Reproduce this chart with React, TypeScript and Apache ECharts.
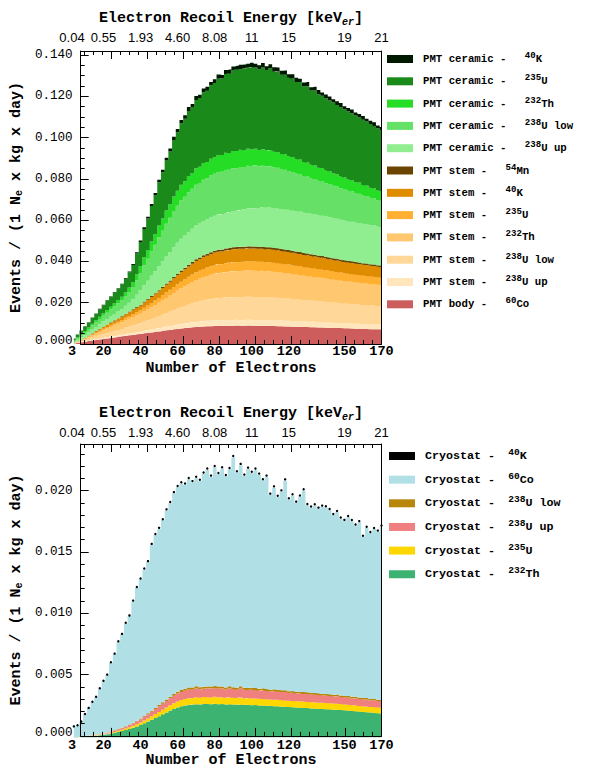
import React, { useEffect, useRef } from 'react';
import * as echarts from 'echarts';

// ---------- axes / ticks ----------
const electronBins = [4,6,8,10,12,14,16,18,20,22,24,26,28,30,32,34,36,38,40,42,44,46,48,50,52,54,56,58,60,62,64,66,68,70,72,74,76,78,80,82,84,86,88,90,92,94,96,98,100,102,104,106,108,110,112,114,116,118,120,122,124,126,128,130,132,134,136,138,140,142,144,146,148,150,152,154,156,158,160,162,164,166,168,170];
const xMajorTicks = [3, 20, 40, 60, 80, 100, 120, 150, 170];
const energyLabels = ['0.04', '0.55', '1.93', '4.60', '8.08', '11', '15', '19', '21'];
const xMinorTicks = [5, 10, 15, 25, 30, 35, 45, 50, 55, 65, 70, 75, 85, 90, 95, 105, 110, 115, 125, 130, 135, 140, 145, 155, 160, 165];
const yTicksPmt = [0, 0.02, 0.04, 0.06, 0.08, 0.1, 0.12, 0.14];
const yMinorPmt = [0.005,0.01,0.015,0.025,0.03,0.035,0.045,0.05,0.055,0.065,0.07,0.075,0.085,0.09,0.095,0.105,0.11,0.115,0.125,0.13,0.135];
const yTicksCryo = [0, 0.005, 0.01, 0.015, 0.02];
const yMinorCryo = [0.001,0.002,0.003,0.004,0.006,0.007,0.008,0.009,0.011,0.012,0.013,0.014,0.016,0.017,0.018,0.019,0.021,0.022,0.023];

// ---------- PMT histogram (stack bottom -> top) ----------
const pmtBodyCo60 = [0.0003,0.0006,0.0008,0.0011,0.0014,0.0017,0.0019,0.0022,0.0025,0.0027,0.003,0.0032,0.0035,0.0037,0.004,0.0042,0.0044,0.0047,0.0049,0.0052,0.0054,0.0056,0.0059,0.0061,0.0064,0.0066,0.0068,0.0071,0.0073,0.0075,0.0077,0.0079,0.0081,0.0082,0.0083,0.0085,0.0086,0.0086,0.0087,0.0088,0.0087,0.0088,0.0088,0.0088,0.0089,0.0088,0.0088,0.0089,0.0088,0.0088,0.0087,0.0088,0.0087,0.0087,0.0087,0.0086,0.0086,0.0085,0.0085,0.0084,0.0084,0.0083,0.0082,0.0082,0.0081,0.0081,0.008,0.008,0.0079,0.0078,0.0078,0.0077,0.0077,0.0076,0.0076,0.0075,0.0074,0.0074,0.0073,0.0073,0.0072,0.0072,0.0071,0.0071];
const pmtStemU238up = [0.00002,0.00005,0.0001,0.00014,0.0002,0.00026,0.00033,0.00039,0.00045,0.00051,0.00056,0.00062,0.00068,0.00074,0.0008,0.00086,0.00093,0.00099,0.00106,0.00115,0.00123,0.00132,0.0014,0.00149,0.0016,0.0017,0.0018,0.0019,0.002,0.0021,0.00219,0.00228,0.00237,0.00246,0.00252,0.00258,0.00263,0.00269,0.00274,0.00276,0.00278,0.00281,0.00283,0.00285,0.00286,0.00287,0.00287,0.00288,0.00289,0.00288,0.00288,0.00287,0.00287,0.00286,0.00284,0.00283,0.00281,0.00279,0.00278,0.00275,0.00273,0.00272,0.00269,0.00267,0.00266,0.00263,0.00262,0.0026,0.00258,0.00256,0.00254,0.00251,0.00249,0.00247,0.00245,0.00244,0.00242,0.00241,0.00239,0.00238,0.00236,0.00235,0.00233,0.00232];
const pmtStemU238low = [0.00006,0.0002,0.00038,0.00055,0.00078,0.00102,0.00128,0.00151,0.00174,0.00197,0.00218,0.00241,0.00261,0.00284,0.0031,0.00334,0.0036,0.00383,0.00409,0.00444,0.00476,0.0051,0.00542,0.00577,0.00618,0.00655,0.00696,0.00734,0.00774,0.00812,0.00847,0.00882,0.00916,0.00951,0.00974,0.00998,0.01018,0.01038,0.01059,0.01067,0.01076,0.01085,0.01093,0.01102,0.01105,0.01108,0.01111,0.01114,0.01117,0.01114,0.01114,0.01111,0.01108,0.01105,0.01099,0.01093,0.01085,0.01079,0.01073,0.01064,0.01056,0.0105,0.01041,0.01032,0.01027,0.01018,0.01012,0.01003,0.00998,0.00989,0.0098,0.00972,0.00963,0.00954,0.00948,0.00943,0.00937,0.00931,0.00925,0.00919,0.00914,0.00908,0.00902,0.00896];
const pmtStemTh232 = [0.00007,0.00023,0.00043,0.00063,0.00089,0.00116,0.00145,0.00172,0.00198,0.00224,0.00248,0.00274,0.00297,0.00323,0.00353,0.0038,0.00409,0.00436,0.00465,0.00505,0.00541,0.00581,0.00617,0.00657,0.00703,0.00746,0.00792,0.00835,0.00881,0.00924,0.00964,0.01003,0.01043,0.01082,0.01109,0.01135,0.01158,0.01181,0.01205,0.01214,0.01224,0.01234,0.01244,0.01254,0.01257,0.01261,0.01264,0.01267,0.01271,0.01267,0.01267,0.01264,0.01261,0.01257,0.01251,0.01244,0.01234,0.01228,0.01221,0.01211,0.01201,0.01195,0.01185,0.01175,0.01168,0.01158,0.01152,0.01142,0.01135,0.01125,0.01115,0.01106,0.01096,0.01086,0.01079,0.01073,0.01066,0.01059,0.01053,0.01046,0.0104,0.01033,0.01026,0.0102];
const pmtStemU235 = [0.00002,0.00008,0.00015,0.00022,0.00031,0.0004,0.00051,0.0006,0.00069,0.00078,0.00086,0.00095,0.00104,0.00113,0.00123,0.00132,0.00143,0.00152,0.00162,0.00176,0.00189,0.00202,0.00215,0.00229,0.00245,0.0026,0.00276,0.00291,0.00307,0.00322,0.00336,0.0035,0.00363,0.00377,0.00386,0.00396,0.00404,0.00412,0.0042,0.00423,0.00427,0.0043,0.00434,0.00437,0.00438,0.00439,0.0044,0.00442,0.00443,0.00442,0.00442,0.0044,0.00439,0.00438,0.00436,0.00434,0.0043,0.00428,0.00426,0.00422,0.00419,0.00416,0.00413,0.00409,0.00407,0.00404,0.00401,0.00398,0.00396,0.00392,0.00389,0.00385,0.00382,0.00378,0.00376,0.00374,0.00371,0.00369,0.00367,0.00365,0.00362,0.0036,0.00358,0.00355];
const pmtStemK40 = [0.00003,0.00012,0.00021,0.00031,0.00045,0.00058,0.00073,0.00086,0.00099,0.00112,0.00124,0.00137,0.00149,0.00162,0.00177,0.0019,0.00205,0.00218,0.00233,0.00255,0.00268,0.00294,0.00306,0.00331,0.00348,0.00377,0.00392,0.00421,0.00437,0.00466,0.00479,0.00506,0.00518,0.00545,0.0055,0.00572,0.00576,0.00595,0.00599,0.00611,0.00609,0.00621,0.00619,0.00631,0.00625,0.00634,0.00629,0.00638,0.00631,0.00638,0.0063,0.00636,0.00627,0.00633,0.00621,0.00626,0.00613,0.00618,0.00607,0.0061,0.00597,0.00601,0.00588,0.00591,0.0058,0.00583,0.00572,0.00575,0.00564,0.00566,0.00554,0.00557,0.00544,0.00547,0.00536,0.00539,0.00529,0.00533,0.00522,0.00526,0.00516,0.00519,0.00509,0.00513];
const pmtStemMn54 = [0.00001,0.00002,0.00003,0.00005,0.00007,0.00009,0.00011,0.00013,0.00015,0.00017,0.00019,0.00021,0.00023,0.00025,0.00027,0.00029,0.00031,0.00033,0.00035,0.00038,0.00041,0.00044,0.00047,0.0005,0.00053,0.00057,0.0006,0.00063,0.00067,0.0007,0.00073,0.00076,0.00079,0.00082,0.00084,0.00086,0.00088,0.0009,0.00091,0.00092,0.00093,0.00094,0.00094,0.00095,0.00095,0.00096,0.00096,0.00096,0.00096,0.00096,0.00096,0.00096,0.00096,0.00095,0.00095,0.00094,0.00094,0.00093,0.00093,0.00092,0.00091,0.00091,0.0009,0.00089,0.00089,0.00088,0.00087,0.00087,0.00086,0.00085,0.00085,0.00084,0.00083,0.00082,0.00082,0.00081,0.00081,0.0008,0.0008,0.00079,0.00079,0.00078,0.00078,0.00077];
const pmtCeramicU238up = [0.00047,0.00072,0.00099,0.00124,0.00146,0.00169,0.00191,0.00214,0.00236,0.00259,0.00281,0.00304,0.00326,0.00349,0.00387,0.00432,0.00491,0.0059,0.00698,0.00795,0.00888,0.00977,0.01072,0.01162,0.0124,0.01312,0.01384,0.01447,0.01505,0.01541,0.0157,0.01594,0.01616,0.01634,0.01647,0.01658,0.01668,0.01681,0.01697,0.01705,0.01715,0.01723,0.01729,0.01734,0.01759,0.01783,0.01807,0.01826,0.01846,0.01863,0.01879,0.01894,0.0191,0.01925,0.01934,0.0194,0.01946,0.01949,0.01955,0.01956,0.01959,0.01959,0.01961,0.01961,0.01958,0.01957,0.01953,0.01952,0.01948,0.01945,0.01943,0.01938,0.01935,0.01932,0.01926,0.01922,0.01915,0.01911,0.01904,0.01896,0.01888,0.0188,0.01871,0.01862];
const pmtCeramicU238low = [0.00057,0.00086,0.00119,0.00149,0.00176,0.00203,0.0023,0.00257,0.00284,0.00311,0.00338,0.00365,0.00392,0.00419,0.00464,0.00518,0.00589,0.00707,0.00837,0.0096,0.01058,0.0118,0.01279,0.01403,0.01479,0.01586,0.01652,0.01748,0.01795,0.0186,0.01873,0.01925,0.01931,0.01973,0.01965,0.02001,0.0199,0.02029,0.02026,0.02059,0.02046,0.0208,0.02063,0.02092,0.02071,0.02087,0.02063,0.02074,0.02046,0.02056,0.0202,0.02029,0.01993,0.02003,0.0196,0.01961,0.01916,0.01913,0.0187,0.01866,0.0182,0.01816,0.01771,0.01768,0.01719,0.01715,0.01667,0.01664,0.01616,0.01613,0.01567,0.01563,0.01517,0.01515,0.01468,0.01467,0.0142,0.01418,0.01373,0.0137,0.01324,0.01321,0.01276,0.01274];
const pmtCeramicTh232 = [0.00023,0.00035,0.00048,0.00061,0.00072,0.00083,0.00094,0.00105,0.00116,0.00127,0.00138,0.00149,0.0016,0.00171,0.00189,0.00211,0.0024,0.00288,0.00341,0.00395,0.00426,0.00483,0.00516,0.00574,0.00595,0.00646,0.00662,0.0071,0.0072,0.00755,0.00749,0.00778,0.00769,0.00796,0.00784,0.00806,0.00792,0.00813,0.00803,0.00824,0.0081,0.0083,0.00815,0.00832,0.00816,0.00829,0.00808,0.0082,0.00801,0.00812,0.00788,0.00796,0.00775,0.00786,0.00759,0.00765,0.0074,0.00747,0.00719,0.00725,0.00698,0.00704,0.00676,0.00683,0.00654,0.00661,0.00631,0.00638,0.0061,0.00617,0.00589,0.00595,0.00568,0.00575,0.00547,0.00554,0.00527,0.00534,0.00506,0.00513,0.00486,0.00494,0.00466,0.00474];
const pmtCeramicU235 = [0.0008,0.00126,0.00162,0.00215,0.0024,0.00293,0.00316,0.00368,0.00392,0.00446,0.00468,0.00522,0.00543,0.00598,0.00646,0.0074,0.0082,0.01008,0.01169,0.01371,0.01522,0.01724,0.01885,0.02096,0.02231,0.0242,0.0255,0.02733,0.0284,0.02975,0.0303,0.03152,0.03194,0.03306,0.03328,0.0343,0.03446,0.0356,0.03592,0.03691,0.0371,0.03818,0.03829,0.03926,0.03935,0.03908,0.03969,0.03921,0.0398,0.03936,0.0391,0.03962,0.03904,0.03951,0.03879,0.03913,0.03842,0.0385,0.03798,0.03812,0.0373,0.03749,0.03665,0.03693,0.03596,0.03618,0.03564,0.03499,0.03502,0.03428,0.03439,0.03357,0.03376,0.03294,0.03301,0.03226,0.03238,0.03159,0.03163,0.03088,0.0309,0.03015,0.03017,0.02944];
const pmtCeramicK40 = [0.000045,0.000075,0.000105,0.00012,0.00015,0.000165,0.000195,0.00021,0.00024,0.000255,0.000285,0.0003,0.00033,0.000345,0.00039,0.000435,0.000495,0.000585,0.000705,0.000795,0.0009,0.00099,0.001095,0.001185,0.001275,0.00135,0.00144,0.001515,0.001575,0.00162,0.001665,0.001895,0.001525,0.001955,0.00167,0.0018,0.002015,0.00163,0.00186,0.002075,0.001705,0.00192,0.002135,0.00175,0.001965,0.002165,0.00178,0.00198,0.00218,0.00178,0.00198,0.00208,0.00185,0.001965,0.00215,0.00175,0.001935,0.00212,0.00172,0.00189,0.00209,0.001675,0.00186,0.002045,0.00164,0.001815,0.00198,0.001585,0.00177,0.001955,0.00154,0.001725,0.00191,0.0015,0.001665,0.00185,0.00146,0.00162,0.001805,0.00142,0.001575,0.001745,0.00138,0.0015];

// ---------- Cryostat histogram (stack bottom -> top) ----------
const cryoTh232 = [0.00002,0.00003,0.00005,0.00007,0.00009,0.00012,0.00015,0.00018,0.00022,0.00027,0.00032,0.00038,0.00045,0.00052,0.0006,0.00069,0.00079,0.0009,0.00102,0.00115,0.00129,0.00143,0.00158,0.00173,0.00188,0.00203,0.00218,0.00232,0.00244,0.00253,0.0026,0.00264,0.00267,0.0027,0.00268,0.00272,0.00271,0.0027,0.00273,0.00269,0.00271,0.00268,0.0027,0.00267,0.00266,0.00268,0.00264,0.00265,0.00262,0.00263,0.0026,0.0026,0.00256,0.00257,0.00253,0.00254,0.0025,0.0025,0.00247,0.00246,0.00243,0.00243,0.0024,0.00239,0.00236,0.00236,0.00233,0.00232,0.0023,0.00229,0.00226,0.00225,0.00222,0.0022,0.00218,0.00215,0.00213,0.0021,0.00207,0.00205,0.00202,0.002,0.00197,0.00195];
const cryoU235 = [0.000004,0.000006,0.00001,0.000014,0.000018,0.000024,0.00003,0.000036,0.000044,0.000054,0.000064,0.000076,0.00009,0.000104,0.00012,0.000138,0.000158,0.00018,0.000204,0.00023,0.000258,0.000286,0.000316,0.000346,0.000376,0.000406,0.000436,0.000464,0.000488,0.000506,0.00052,0.00054,0.00053,0.00056,0.00054,0.00057,0.00055,0.00054,0.00058,0.00055,0.00056,0.00054,0.00057,0.00055,0.00054,0.00057,0.00053,0.00055,0.00054,0.00053,0.00055,0.00053,0.00054,0.00052,0.00053,0.00052,0.00054,0.00051,0.00052,0.0005,0.00051,0.0005,0.00052,0.00049,0.0005,0.0005,0.00048,0.00049,0.0005,0.00048,0.00049,0.00048,0.00049,0.00047,0.00048,0.00047,0.00048,0.00046,0.00047,0.00047,0.00046,0.00047,0.00046,0.00047];
const cryoU238up = [0.000005,0.000008,0.000013,0.000018,0.000023,0.000031,0.000039,0.000047,0.000057,0.00007,0.000083,0.000099,0.000117,0.000135,0.000156,0.000179,0.000205,0.000234,0.000265,0.000299,0.000335,0.000372,0.000411,0.00045,0.000489,0.000528,0.000567,0.000603,0.000634,0.000658,0.00067,0.00071,0.00068,0.00073,0.0007,0.00066,0.00072,0.00075,0.00069,0.00074,0.0007,0.00067,0.00073,0.00071,0.00068,0.00074,0.0007,0.00066,0.00071,0.00069,0.00065,0.0007,0.00068,0.00064,0.00069,0.00066,0.00065,0.00067,0.00062,0.00066,0.00063,0.00065,0.00061,0.00064,0.00062,0.0006,0.00063,0.00059,0.00061,0.0006,0.00058,0.00061,0.00057,0.00059,0.00058,0.00055,0.00057,0.00056,0.00054,0.00056,0.00053,0.00054,0.00052,0.00052];
const cryoU238low = [0.000001,0.000002,0.000003,0.000004,0.000005,0.000007,0.000009,0.000011,0.000013,0.000016,0.000019,0.000023,0.000027,0.000031,0.000036,0.000041,0.000047,0.000054,0.000061,0.000069,0.000077,0.000086,0.000095,0.000104,0.000113,0.000122,0.000131,0.000139,0.000146,0.000152,0.00016,0.00016,0.00017,0.00016,0.00016,0.00017,0.00016,0.00015,0.00017,0.00016,0.00016,0.00017,0.00016,0.00015,0.00016,0.00017,0.00016,0.00015,0.00016,0.00016,0.00015,0.00016,0.00015,0.00015,0.00016,0.00015,0.00015,0.00015,0.00014,0.00015,0.00015,0.00014,0.00015,0.00014,0.00014,0.00014,0.00014,0.00013,0.00014,0.00014,0.00013,0.00014,0.00013,0.00013,0.00013,0.00013,0.00013,0.00012,0.00012,0.00013,0.00012,0.00012,0.00012,0.00012];
const cryoCo60 = [0.000865,0.000949,0.001217,0.001784,0.002252,0.002703,0.003055,0.003706,0.004243,0.004664,0.005583,0.006188,0.007077,0.007568,0.008341,0.008802,0.009844,0.010771,0.011285,0.011883,0.012268,0.013447,0.014015,0.014285,0.014753,0.015321,0.01569,0.016274,0.01659,0.01675,0.016545,0.016883,0.016638,0.01689,0.016721,0.017258,0.017571,0.01699,0.01774,0.017205,0.01768,0.017119,0.017587,0.018628,0.017448,0.017915,0.017181,0.017762,0.01741,0.017693,0.017341,0.016843,0.017202,0.015795,0.016352,0.015642,0.0161,0.016995,0.015549,0.015861,0.01531,0.015808,0.016351,0.015173,0.015018,0.015217,0.014965,0.01518,0.01511,0.014927,0.014573,0.014788,0.014337,0.014168,0.014496,0.014244,0.013876,0.01422,0.013072,0.013799,0.013447,0.013775,0.013622,0.01404];
const cryoK40 = [0.000005,0.000005,0.000007,0.00001,0.000012,0.000015,0.000017,0.00002,0.000023,0.000026,0.000031,0.000034,0.000039,0.000042,0.000047,0.00005,0.000056,0.000061,0.000065,0.000069,0.000072,0.000079,0.000083,0.000085,0.000089,0.000093,0.000096,0.0001,0.000102,0.000104,0.000103,0.000105,0.000104,0.000106,0.000105,0.000108,0.000109,0.000106,0.00011,0.000107,0.00011,0.000107,0.000109,0.000114,0.000108,0.000111,0.000107,0.00011,0.000108,0.000109,0.000107,0.000105,0.000106,0.000099,0.000102,0.000098,0.0001,0.000105,0.000097,0.000099,0.000096,0.000098,0.000101,0.000095,0.000094,0.000095,0.000093,0.000094,0.000094,0.000093,0.000091,0.000092,0.000089,0.000088,0.00009,0.000088,0.000086,0.000088,0.000082,0.000085,0.000083,0.000085,0.000084,0.000086];

// ---------- series descriptors (stack order) ----------
const pmtLayers = [
  { name: 'PMT body - 60Co', data: pmtBodyCo60 },
  { name: 'PMT stem - 238U up', data: pmtStemU238up },
  { name: 'PMT stem - 238U low', data: pmtStemU238low },
  { name: 'PMT stem - 232Th', data: pmtStemTh232 },
  { name: 'PMT stem - 235U', data: pmtStemU235 },
  { name: 'PMT stem - 40K', data: pmtStemK40 },
  { name: 'PMT stem - 54Mn', data: pmtStemMn54 },
  { name: 'PMT ceramic - 238U up', data: pmtCeramicU238up },
  { name: 'PMT ceramic - 238U low', data: pmtCeramicU238low },
  { name: 'PMT ceramic - 232Th', data: pmtCeramicTh232 },
  { name: 'PMT ceramic - 235U', data: pmtCeramicU235 },
  { name: 'PMT ceramic - 40K', data: pmtCeramicK40 },
];
const cryoLayers = [
  { name: 'Cryostat - 232Th', data: cryoTh232 },
  { name: 'Cryostat - 235U', data: cryoU235 },
  { name: 'Cryostat - 238U up', data: cryoU238up },
  { name: 'Cryostat - 238U low', data: cryoU238low },
  { name: 'Cryostat - 60Co', data: cryoCo60 },
  { name: 'Cryostat - 40K', data: cryoK40 },
];

const COLORS: Record<string, string> = {
  'PMT body - 60Co': '#cd5c5c',
  'PMT stem - 238U up': '#ffe6bd',
  'PMT stem - 238U low': '#ffd899',
  'PMT stem - 232Th': '#ffc870',
  'PMT stem - 235U': '#ffb030',
  'PMT stem - 40K': '#e08c00',
  'PMT stem - 54Mn': '#6b4400',
  'PMT ceramic - 238U up': '#90ee90',
  'PMT ceramic - 238U low': '#66e066',
  'PMT ceramic - 232Th': '#24dd24',
  'PMT ceramic - 235U': '#1a8a1a',
  'PMT ceramic - 40K': '#001a00',
  'Cryostat - 232Th': '#3cb371',
  'Cryostat - 235U': '#ffd700',
  'Cryostat - 238U up': '#f08080',
  'Cryostat - 238U low': '#b8860b',
  'Cryostat - 60Co': '#b0e0e6',
  'Cryostat - 40K': '#000000',
};

const MONO = '"Liberation Mono", "DejaVu Sans Mono", monospace';
const SANS = '"Liberation Sans", Arial, sans-serif';

// plot frame geometry (pixels)
const FRAME_LEFT = 72;
const FRAME_WIDTH = 309.5;
const X_MIN = 3;
const X_MAX = 170;
const PX_PER_E = FRAME_WIDTH / (X_MAX - X_MIN);
const DATA_LEFT = FRAME_LEFT + (electronBins[0] - X_MIN) * PX_PER_E;
const DATA_WIDTH = (electronBins[electronBins.length - 1] - electronBins[0]) * PX_PER_E;
// label axes live on a grid extended to the left so that the first label is not an axis-end label
const LABEL_PAD_E = 10;
const LABEL_LEFT = FRAME_LEFT - LABEL_PAD_E * PX_PER_E;
const LABEL_WIDTH = FRAME_WIDTH + LABEL_PAD_E * PX_PER_E;

function legendRich(name: string): string {
  const m = name.match(/^(.*- )(\d+)([A-Za-z]+)(.*)$/);
  if (!m) return `{g| }{t|${name}}`;
  return `{g| }{t|${m[1]}}{p| }{s|${m[2]}}{t|${m[3]}${m[4]}}`;
}

function energyLabel(v: number): string {
  const i = xMajorTicks.indexOf(v);
  return i < 0 ? '' : energyLabels[i];
}

function yLabel(v: number): string {
  const s = v.toFixed(3);
  return v === 0 ? `{z|${s}}` : s;
}

function buildSeries(layers: { name: string; data: number[] }[], xi: number, yi: number, stack: string) {
  return layers.map((l) => {
    const color = COLORS[l.name];
    const isDots = l.name === 'Cryostat - 40K';
    return {
      name: l.name,
      type: 'line',
      xAxisIndex: xi,
      yAxisIndex: yi,
      stack,
      step: 'middle',
      data: l.data,
      color,
      symbol: isDots ? 'circle' : 'none',
      symbolSize: 2.4,
      showSymbol: isDots,
      showAllSymbol: true,
      lineStyle: { width: 0, color },
      itemStyle: { color },
      areaStyle: isDots ? undefined : { color, opacity: 1 },
      silent: true,
      emphasis: { disabled: true },
      z: 2,
    };
  });
}

function xAxesFor(grid: number, labelGrid: number, labelMarginB: number, nameGapB: number, labelMarginT: number, nameGapT: number) {
  const line = { show: true, onZero: false, lineStyle: { color: '#000', width: 1 } };
  const hidden = { axisLine: { show: false, onZero: false }, axisTick: { show: false }, splitLine: { show: false } };
  return [
    {
      type: 'value', gridIndex: grid, position: 'bottom', min: X_MIN, max: X_MAX, z: 10,
      axisLine: line,
      axisTick: { show: true, inside: true, length: 8, customValues: xMajorTicks, lineStyle: { color: '#000', width: 1 } },
      axisLabel: { show: false },
      splitLine: { show: false },
      name: 'Number of Electrons', nameLocation: 'middle', nameGap: nameGapB,
      nameTextStyle: { fontFamily: MONO, fontWeight: 'bold', fontSize: 15, lineHeight: 14, color: '#000' },
    },
    {
      type: 'value', gridIndex: grid, position: 'top', min: X_MIN, max: X_MAX, z: 10,
      axisLine: line,
      axisTick: { show: true, inside: true, length: 8, customValues: xMajorTicks, lineStyle: { color: '#000', width: 1 } },
      axisLabel: { show: false },
      splitLine: { show: false },
      name: 'Electron Recoil Energy [keV{sub|er}]', nameLocation: 'middle', nameGap: nameGapT,
      nameTextStyle: {
        fontFamily: MONO, fontWeight: 'bold', fontSize: 15, color: '#000', lineHeight: 18,
        rich: { sub: { fontFamily: MONO, fontWeight: 'bold', fontStyle: 'italic', fontSize: 10, lineHeight: 10, verticalAlign: 'bottom', color: '#000' } },
      },
    },
    {
      type: 'value', gridIndex: grid, position: 'bottom', min: X_MIN, max: X_MAX, z: 10,
      axisLine: { show: false, onZero: false },
      axisTick: { show: true, inside: true, length: 4, customValues: xMinorTicks, lineStyle: { color: '#000', width: 1 } },
      axisLabel: { show: false }, splitLine: { show: false },
    },
    {
      type: 'value', gridIndex: grid, position: 'top', min: X_MIN, max: X_MAX, z: 10,
      axisLine: { show: false, onZero: false },
      axisTick: { show: true, inside: true, length: 4, customValues: xMinorTicks, lineStyle: { color: '#000', width: 1 } },
      axisLabel: { show: false }, splitLine: { show: false },
    },
    {
      type: 'value', gridIndex: labelGrid, position: 'bottom', min: X_MIN - LABEL_PAD_E, max: X_MAX, z: 10, ...hidden,
      axisLabel: {
        show: true, customValues: xMajorTicks, margin: labelMarginB, showMinLabel: true, showMaxLabel: true,
        fontFamily: MONO, fontWeight: 'bold', fontSize: 13.5, lineHeight: 12, color: '#000',
      },
    },
    {
      type: 'value', gridIndex: labelGrid, position: 'top', min: X_MIN - LABEL_PAD_E, max: X_MAX, z: 10, ...hidden,
      axisLabel: {
        show: true, customValues: xMajorTicks, margin: labelMarginT, showMinLabel: true, showMaxLabel: true,
        fontFamily: SANS, fontSize: 13, color: '#000', formatter: energyLabel,
      },
    },
  ];
}

function yAxesFor(grid: number, max: number, ticks: number[], minor: number[]) {
  const yFont = { fontFamily: MONO, fontSize: 12.6, lineHeight: 12, color: '#000' };
  return [
    {
      type: 'value', gridIndex: grid, position: 'left', min: 0, max, z: 10,
      axisLine: { show: true, onZero: false, lineStyle: { color: '#000', width: 1 } },
      axisTick: { show: true, inside: true, length: 8, customValues: ticks, lineStyle: { color: '#000', width: 1 } },
      axisLabel: {
        show: true, customValues: ticks, margin: 8, showMinLabel: true, ...yFont,
        formatter: yLabel,
        rich: { z: { ...yFont, padding: [0, 0, 6, 0] } },
      },
      splitLine: { show: false },
      name: 'Events / (1 N{sub|e} x kg x day)', nameLocation: 'middle', nameGap: 45, nameRotate: 90,
      nameTextStyle: {
        fontFamily: MONO, fontWeight: 'bold', fontSize: 15, color: '#000', lineHeight: 16,
        rich: { sub: { fontFamily: MONO, fontWeight: 'bold', fontSize: 10, lineHeight: 10, verticalAlign: 'bottom', color: '#000' } },
      },
    },
    {
      type: 'value', gridIndex: grid, position: 'left', min: 0, max, z: 10,
      axisLine: { show: false, onZero: false },
      axisTick: { show: true, inside: true, length: 4, customValues: minor, lineStyle: { color: '#000', width: 1 } },
      axisLabel: { show: false }, splitLine: { show: false },
    },
    {
      type: 'value', gridIndex: grid, position: 'right', min: 0, max, z: 10,
      axisLine: { show: true, onZero: false, lineStyle: { color: '#000', width: 1 } },
      axisTick: { show: false }, axisLabel: { show: false }, splitLine: { show: false },
    },
  ];
}

function legendFor(layers: { name: string }[], left: number, top: number, fontSize: number, lineH: number, gap: number, supGap: number, supScale: number) {
  return {
    orient: 'vertical', left, top, padding: 0, itemWidth: 26, itemHeight: 8, itemGap: gap,
    icon: 'rect', selectedMode: false,
    data: layers.map((l) => l.name).reverse(),
    formatter: legendRich,
    itemStyle: { borderWidth: 0 },
    lineStyle: { width: 0 },
    textStyle: {
      fontFamily: MONO, fontWeight: 'bold', fontSize, color: '#000',
      rich: {
        g: { width: 5, fontSize },
        p: { width: supGap, fontSize },
        t: { fontFamily: MONO, fontWeight: 'bold', fontSize, lineHeight: lineH, color: '#000' },
        s: { fontFamily: MONO, fontWeight: 'bold', fontSize: fontSize * supScale, verticalAlign: 'top', color: '#000' },
      },
    },
  };
}

function buildOption() {
  const PMT_TOP = 51, PMT_H = 293, CRYO_TOP = 444, CRYO_H = 293.5;
  const PMT_MAX = 0.1419, CRYO_MAX = 0.0238;
  const binLabels = electronBins.map(String);
  return {
    animation: false,
    backgroundColor: '#fff',
    grid: [
      { left: FRAME_LEFT, top: PMT_TOP, width: FRAME_WIDTH, height: PMT_H },
      { left: FRAME_LEFT, top: CRYO_TOP, width: FRAME_WIDTH, height: CRYO_H },
      { left: DATA_LEFT, top: PMT_TOP, width: DATA_WIDTH, height: PMT_H },
      { left: DATA_LEFT, top: CRYO_TOP, width: DATA_WIDTH, height: CRYO_H },
      { left: LABEL_LEFT, top: PMT_TOP, width: LABEL_WIDTH, height: PMT_H },
      { left: LABEL_LEFT, top: CRYO_TOP, width: LABEL_WIDTH, height: CRYO_H },
    ],
    xAxis: [
      ...xAxesFor(0, 4, 1.5, 17.6, 7, 24),   // 0..5
      ...xAxesFor(1, 5, 1.5, 17.6, 5, 22),   // 6..11
      { type: 'category', gridIndex: 2, data: binLabels, boundaryGap: false, show: false }, // 12
      { type: 'category', gridIndex: 3, data: binLabels, boundaryGap: false, show: false }, // 13
    ],
    yAxis: [
      ...yAxesFor(0, PMT_MAX, yTicksPmt, yMinorPmt),   // 0..2
      ...yAxesFor(1, CRYO_MAX, yTicksCryo, yMinorCryo), // 3..5
      { type: 'value', gridIndex: 2, min: 0, max: PMT_MAX, show: false }, // 6
      { type: 'value', gridIndex: 3, min: 0, max: CRYO_MAX, show: false }, // 7
      { type: 'value', gridIndex: 4, min: 0, max: PMT_MAX, show: false }, // 8
      { type: 'value', gridIndex: 5, min: 0, max: CRYO_MAX, show: false }, // 9
    ],
    legend: [
      legendFor(pmtLayers, 387, 51, 10.7, 16, 8.8, 12, 0.85),
      legendFor(cryoLayers, 389, 447.5, 11.7, 17, 9.15, 6, 0.82),
    ],
    series: [...buildSeries(pmtLayers, 12, 6, 'pmt'), ...buildSeries(cryoLayers, 13, 7, 'cryo')],
  };
}

export default function App() {
  const ref = useRef<HTMLDivElement>(null);
  useEffect(() => {
    document.body.style.margin = '0';
    const chart = echarts.init(ref.current as HTMLDivElement, undefined, { renderer: 'svg' });
    chart.setOption(buildOption() as any);
    return () => chart.dispose();
  }, []);
  return <div ref={ref} style={{ width: 593, height: 769 }} />;
}
